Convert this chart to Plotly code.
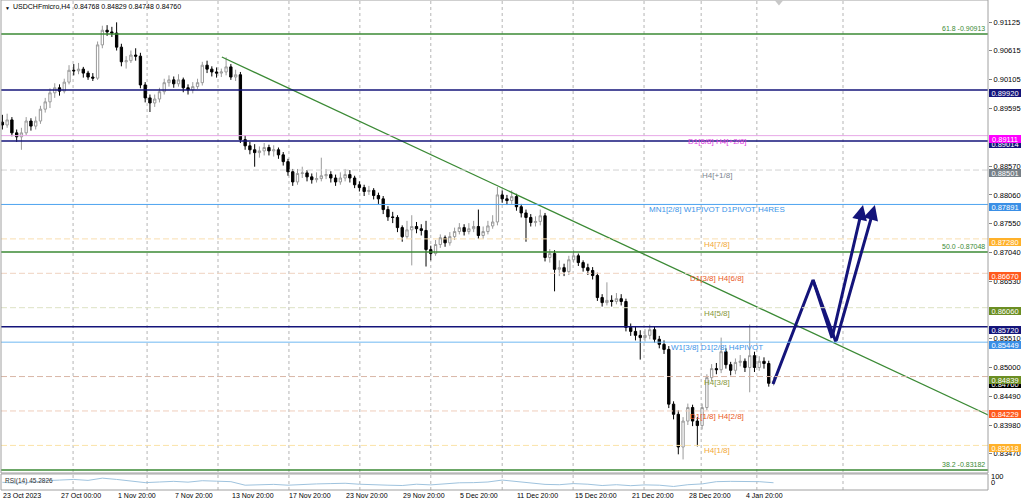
import plotly.graph_objects as go

# USDCHFmicro, H4 - one candle here covers two H4 bars (23 Oct 2023 -> 5 Jan 2024)
closes = [
    0.8930, 0.8939, 0.8916, 0.8909, 0.8916, 0.8937, 0.8928, 0.8937, 0.8958, 0.8971,
    0.8987, 0.8996, 0.8990, 0.9006, 0.9027, 0.9026, 0.9029, 0.9022, 0.9015, 0.9013,
    0.9072, 0.9098, 0.9095, 0.9093, 0.9068, 0.9042, 0.9044, 0.9054, 0.9052, 0.9001,
    0.8978, 0.8969, 0.8976, 0.8989, 0.9005, 0.9010, 0.9003, 0.9010, 0.8996, 0.8992,
    0.8998, 0.9005, 0.9036, 0.9029, 0.9024, 0.9022, 0.9024, 0.9033, 0.9015, 0.9019,
    0.8904, 0.8893, 0.8886, 0.8881, 0.8884, 0.8890, 0.8884, 0.8886, 0.8877, 0.8865,
    0.8847, 0.8829, 0.8844, 0.8845, 0.8838, 0.8833, 0.8835, 0.8840, 0.8842, 0.8836,
    0.8829, 0.8836, 0.8842, 0.8836, 0.8824, 0.8819, 0.8812, 0.8814, 0.8805, 0.8799,
    0.8780, 0.8767, 0.8766, 0.8748, 0.8732, 0.8744, 0.8750, 0.8746, 0.8743, 0.8709,
    0.8702, 0.8718, 0.8730, 0.8721, 0.8732, 0.8741, 0.8748, 0.8741, 0.8746, 0.8750,
    0.8734, 0.8741, 0.8751, 0.8758, 0.8806, 0.8799, 0.8796, 0.8803, 0.8785, 0.8774,
    0.8766, 0.8757, 0.8759, 0.8769, 0.8695, 0.8702, 0.8674, 0.8677, 0.8670, 0.8691,
    0.8698, 0.8686, 0.8677, 0.8672, 0.8663, 0.8624, 0.8615, 0.8619, 0.8617, 0.8622,
    0.8617, 0.8571, 0.8564, 0.8557, 0.8553, 0.8557, 0.8567, 0.8550, 0.8541, 0.8532,
    0.8435, 0.8417, 0.8359, 0.8405, 0.8429, 0.8405, 0.8397, 0.8429, 0.8482, 0.8498,
    0.8496, 0.8528, 0.8505, 0.8495, 0.8509, 0.8511, 0.8500, 0.8521, 0.8500, 0.8511,
    0.8507, 0.8472, 0.8476,
]
highs = [
    0.8948, 0.8950, 0.8944, 0.8922, 0.8925, 0.8944, 0.8942, 0.8945, 0.8964, 0.8978,
    0.8995, 0.9004, 0.9002, 0.9012, 0.9036, 0.9038, 0.9040, 0.9033, 0.9026, 0.9022,
    0.9078, 0.9106, 0.9107, 0.9104, 0.9112, 0.9074, 0.9052, 0.9062, 0.9066, 0.9058,
    0.9006, 0.8984, 0.8984, 0.8996, 0.9012, 0.9018, 0.9016, 0.9020, 0.9014, 0.9002,
    0.9006, 0.9012, 0.9042, 0.9044, 0.9034, 0.9032, 0.9030, 0.9050, 0.9038, 0.9028,
    0.9024, 0.8912, 0.8900, 0.8896, 0.8892, 0.8898, 0.8895, 0.8894, 0.8890, 0.8882,
    0.8870, 0.8852, 0.8852, 0.8856, 0.8850, 0.8844, 0.8846, 0.8872, 0.8852, 0.8848,
    0.8842, 0.8846, 0.8852, 0.8850, 0.8840, 0.8830, 0.8824, 0.8822, 0.8818, 0.8810,
    0.8804, 0.8786, 0.8776, 0.8770, 0.8752, 0.8760, 0.8770, 0.8758, 0.8754, 0.8760,
    0.8716, 0.8726, 0.8736, 0.8734, 0.8740, 0.8748, 0.8756, 0.8754, 0.8756, 0.8760,
    0.8780, 0.8750, 0.8760, 0.8770, 0.8820, 0.8814, 0.8806, 0.8814, 0.8808, 0.8790,
    0.8780, 0.8772, 0.8768, 0.8780, 0.8774, 0.8710, 0.8708, 0.8690, 0.8684, 0.8698,
    0.8708, 0.8702, 0.8690, 0.8684, 0.8678, 0.8668, 0.8630, 0.8651, 0.8628, 0.8632,
    0.8630, 0.8622, 0.8578, 0.8572, 0.8566, 0.8568, 0.8576, 0.8572, 0.8556, 0.8548,
    0.8538, 0.8440, 0.8424, 0.8412, 0.8436, 0.8434, 0.8412, 0.8436, 0.8488, 0.8506,
    0.8508, 0.8553, 0.8534, 0.8510, 0.8516, 0.8522, 0.8516, 0.8576, 0.8528, 0.8520,
    0.8518, 0.8512, 0.8483,
]
lows = [
    0.8922, 0.8925, 0.8910, 0.8900, 0.8886, 0.8912, 0.8920, 0.8922, 0.8932, 0.8952,
    0.8960, 0.8978, 0.8982, 0.8986, 0.9002, 0.9018, 0.9020, 0.9014, 0.9010, 0.9008,
    0.9010, 0.9066, 0.9088, 0.9086, 0.9062, 0.9034, 0.9030, 0.9040, 0.9044, 0.8995,
    0.8970, 0.8953, 0.8962, 0.8970, 0.8984, 0.8998, 0.8996, 0.8998, 0.8988, 0.8984,
    0.8986, 0.8994, 0.9000, 0.9022, 0.9016, 0.9014, 0.9015, 0.9018, 0.9010, 0.9008,
    0.8898, 0.8886, 0.8878, 0.8856, 0.8872, 0.8876, 0.8876, 0.8874, 0.8870, 0.8858,
    0.8840, 0.8822, 0.8824, 0.8836, 0.8830, 0.8826, 0.8828, 0.8830, 0.8834, 0.8828,
    0.8822, 0.8824, 0.8830, 0.8828, 0.8818, 0.8812, 0.8804, 0.8806, 0.8798, 0.8790,
    0.8772, 0.8760, 0.8756, 0.8740, 0.8723, 0.8728, 0.8681, 0.8738, 0.8734, 0.8679,
    0.8690, 0.8698, 0.8712, 0.8714, 0.8716, 0.8726, 0.8736, 0.8734, 0.8736, 0.8740,
    0.8728, 0.8728, 0.8736, 0.8746, 0.8752, 0.8792, 0.8788, 0.8790, 0.8778, 0.8766,
    0.8723, 0.8750, 0.8750, 0.8752, 0.8688, 0.8686, 0.8635, 0.8662, 0.8662, 0.8664,
    0.8686, 0.8680, 0.8670, 0.8664, 0.8656, 0.8618, 0.8608, 0.8610, 0.8608, 0.8612,
    0.8610, 0.8564, 0.8556, 0.8548, 0.8514, 0.8546, 0.8550, 0.8544, 0.8534, 0.8524,
    0.8428, 0.8408, 0.8346, 0.8337, 0.8398, 0.8396, 0.8360, 0.8390, 0.8424, 0.8476,
    0.8488, 0.8490, 0.8498, 0.8486, 0.8488, 0.8502, 0.8492, 0.8456, 0.8492, 0.8494,
    0.8498, 0.8466, 0.8468,
]
# each candle opens where the previous one closed
opens = [0.8935] + closes[:-1]
bars = list(range(len(closes)))

rsi_values = [
    48, 42, 47, 58, 62, 66, 60, 74, 66, 58, 46, 50, 54, 49, 58, 55, 52, 30, 33,
    35, 30, 36, 38, 40, 42, 36, 35, 30, 28, 36, 32, 40, 45, 46, 50, 62, 54, 47,
    35, 33, 40, 36, 28, 33, 27, 32, 30, 22, 33, 38, 52, 54, 53, 52, 45.2826,
]
rsi_bars = list(range(0, len(closes), 3))

date_labels = [
    "23 Oct 2023", "27 Oct 00:00", "1 Nov 20:00", "7 Nov 20:00", "13 Nov 20:00",
    "17 Nov 20:00", "23 Nov 20:00", "29 Nov 20:00", "5 Dec 20:00", "11 Dec 20:00",
    "15 Dec 20:00", "21 Dec 20:00", "28 Dec 20:00", "4 Jan 20:00",
]
date_bars = [0, 12, 24, 36, 48, 60, 72, 84, 96, 108, 120, 132, 144, 156]
week_separators = [14.85, 30.4, 45.3, 60.2, 75.1, 90.0, 105.0, 119.9, 134.8, 146.8, 158.5, 176.6]

price_ticks = [0.91125, 0.90615, 0.90105, 0.89595, 0.88570, 0.88060, 0.87550,
               0.87040, 0.86530, 0.85510, 0.85000, 0.84490, 0.83980, 0.83470]

fib_prices = [0.90913, 0.87048, 0.83182]
fib_labels = ["61.8 -0.90913", "50.0 -0.87048", "38.2 -0.83182"]

navy_prices = [0.89920, 0.89014, 0.85720]

level_prices = [0.89111, 0.88501, 0.87891, 0.87280, 0.86670,
                0.86060, 0.85449, 0.84839, 0.84229, 0.83618]
level_labels = ["D1[6/8] H4[+2/8]", "H4[+1/8]", "MN1[2/8] W1PIVOT D1PIVOT H4RES",
                "H4[7/8]", "D1[3/8] H4[6/8]", "H4[5/8]", "W1[3/8] D1[2/8] H4PIVOT",
                "H4[3/8]", "D1[1/8] H4[2/8]", "H4[1/8]"]

last_quote = [0.84768, 0.84829, 0.84748, 0.84760]
rsi_last = 45.2826
rsi_scale = ["100", "0"]

trend_bars = [46.1, 207.1]
trend_prices = [0.90505, 0.84158]

# hand-drawn forecast: two zig-zags ending in arrows
path_a_bars = [161.9, 170.3, 174.3, 180.8]
path_a_prices = [0.84707, 0.86551, 0.85523, 0.87881]
path_b_bars = [170.3, 175.1, 183.3]
path_b_prices = [0.86551, 0.85452, 0.87881]

# styles
NAVY = "#14147a"
GREEN = "#3b8a35"
FONT = "Arial, Liberation Sans, sans-serif"
DASH = "6px,3px"
level_styles = [
    dict(line="#e7a8e7", dash="solid", text="#e040e0", box="#ff00ff"),
    dict(line="#d2d2d2", dash=DASH, text="#7d8590", box="#778088"),
    dict(line="#4da3f0", dash="solid", text="#3d95e8", box="#3a8fe6"),
    dict(line="#f9dfb0", dash=DASH, text="#f2a93a", box="#ffb12a"),
    dict(line="#efd2c0", dash=DASH, text="#ea5a28", box="#ff5a1e"),
    dict(line="#dde2c4", dash=DASH, text="#86973a", box="#6b8e23"),
    dict(line="#70b8f2", dash="solid", text="#3d95e8", box="#3a8fe6"),
    dict(line="#d9b6a6", dash=DASH, text="#86973a", box="#6b8e23"),
    dict(line="#efcdbc", dash=DASH, text="#ea5a28", box="#ff5a1e"),
    dict(line="#fbe3a8", dash=DASH, text="#f2a93a", box="#ffb12a"),
]

X_RANGE = [-0.29, 207.06]
Y_RANGE = [0.83129, 0.91516]
MAIN_DOMAIN = [0.0347, 1.0]
RSI_DOMAIN = [0.0, 0.0327]

fig = go.Figure()

fig.add_trace(
    go.Candlestick(
        x=bars,
        open=opens,
        high=highs,
        low=lows,
        close=closes,
        increasing=dict(line=dict(color="#9a9a9a", width=1), fillcolor="#ffffff"),
        decreasing=dict(line=dict(color="#000000", width=1), fillcolor="#000000"),
        whiskerwidth=0,
        hoverinfo="skip",
        showlegend=False,
        xaxis="x",
        yaxis="y",
    )
)

fig.add_trace(
    go.Scatter(
        x=trend_bars, y=trend_prices, mode="lines",
        line=dict(color=GREEN, width=1.3), hoverinfo="skip", showlegend=False,
    )
)
for xs, ys in [(path_a_bars[:-1], path_a_prices[:-1]), (path_b_bars[:-1], path_b_prices[:-1])]:
    fig.add_trace(
        go.Scatter(
            x=xs, y=ys, mode="lines",
            line=dict(color=NAVY, width=3), hoverinfo="skip", showlegend=False,
        )
    )

fig.add_trace(
    go.Scatter(
        x=rsi_bars, y=rsi_values, mode="lines",
        line=dict(color="#9fc3de", width=1), hoverinfo="skip", showlegend=False,
        xaxis="x", yaxis="y2",
    )
)

shapes = []
annotations = []

# weekly separators (dotted grid)
for b in week_separators:
    shapes.append(dict(type="line", xref="x", yref="paper", x0=b, x1=b, y0=0, y1=1,
                       line=dict(color="#b5b5b5", width=1, dash="dot"), layer="below"))

# levels with text tags
for price, label, st in zip(level_prices, level_labels, level_styles):
    shapes.append(dict(type="line", xref="paper", yref="y", x0=0, x1=1, y0=price, y1=price,
                       line=dict(color=st["line"], width=1, dash=st["dash"]), layer="above"))
    annotations.append(dict(xref="paper", yref="y", x=0.7255, y=price, text=label,
                            showarrow=False, xanchor="center", yanchor="top", yshift=1,
                            font=dict(family=FONT, size=8, color=st["text"])))

for price in navy_prices:
    shapes.append(dict(type="line", xref="paper", yref="y", x0=0, x1=1, y0=price, y1=price,
                       line=dict(color=NAVY, width=1.5), layer="above"))

for price, label in zip(fib_prices, fib_labels):
    shapes.append(dict(type="line", xref="paper", yref="y", x0=0, x1=1, y0=price, y1=price,
                       line=dict(color=GREEN, width=1.5), layer="above"))
    annotations.append(dict(xref="paper", yref="y", x=0.999, y=price, text=label,
                            showarrow=False, xanchor="right", yanchor="bottom", yshift=0,
                            font=dict(family=FONT, size=7, color=GREEN)))

# arrow heads of the forecast
for xs, ys in [(path_a_bars, path_a_prices), (path_b_bars, path_b_prices)]:
    annotations.append(dict(xref="x", yref="y", axref="x", ayref="y",
                            x=xs[-1], y=ys[-1], ax=xs[-2], ay=ys[-2], text="",
                            showarrow=True, arrowhead=2, arrowsize=1, arrowwidth=3,
                            arrowcolor=NAVY, standoff=0, startstandoff=0))

# pane borders
shapes.append(dict(type="rect", xref="paper", yref="paper", x0=0, x1=1,
                   y0=MAIN_DOMAIN[0], y1=1, line=dict(color="#a0a0a0", width=1), layer="above"))
shapes.append(dict(type="rect", xref="paper", yref="paper", x0=0, x1=1,
                   y0=RSI_DOMAIN[0], y1=RSI_DOMAIN[1], line=dict(color="#a0a0a0", width=1), layer="above"))
# chart shift marker at the top
shapes.append(dict(type="path", xref="paper", yref="paper",
                   path="M 0.7837 1 L 0.7928 1 L 0.7882 0.989 Z",
                   fillcolor="#c8c8c8", line=dict(width=0), layer="above"))

# price boxes on the right scale (current price under the olive tag)
box_prices = [last_quote[3]] + navy_prices + level_prices
box_colors = ["#000000"] + [NAVY] * 3 + [st["box"] for st in level_styles]
for price, color in zip(box_prices, box_colors):
    annotations.append(dict(xref="paper", yref="y", x=1, y=price, xanchor="left", xshift=1,
                            yshift=-3, text=f"{price:.5f}", showarrow=False, bgcolor=color,
                            width=32, height=8, borderpad=0, borderwidth=0,
                            font=dict(family=FONT, size=7.5, color="#ffffff")))

# RSI scale, drawn overlapped like the terminal does in a thin pane
for text, shift in zip(rsi_scale, [-3, -9]):
    annotations.append(dict(xref="paper", yref="paper", x=1, y=RSI_DOMAIN[1], xanchor="left",
                            yanchor="middle", xshift=1, yshift=shift, text=text, showarrow=False,
                            font=dict(family=FONT, size=7.5, color="#000000")))

# date labels start at their tick
for b, label in zip(date_bars, date_labels):
    annotations.append(dict(xref="x", yref="paper", x=b, y=0, xanchor="left", yanchor="top",
                            xshift=-1, yshift=0, text=label, showarrow=False,
                            font=dict(family=FONT, size=7, color="#000000")))

annotations.append(dict(xref="paper", yref="paper", x=0, y=1, xanchor="left", yanchor="top",
                        xshift=2, yshift=-3, text="▼", showarrow=False,
                        font=dict(family=FONT, size=5, color="#000000")))
annotations.append(dict(xref="paper", yref="paper", x=0, y=1, xanchor="left", yanchor="top",
                        xshift=10, yshift=-1,
                        text="USDCHFmicro,H4  " + " ".join(f"{v:.5f}" for v in last_quote),
                        showarrow=False, font=dict(family=FONT, size=7, color="#000000")))
annotations.append(dict(xref="paper", yref="paper", x=0, y=RSI_DOMAIN[1], xanchor="left",
                        yanchor="top", xshift=2, yshift=-1, text=f"RSI(14) {rsi_last}",
                        showarrow=False, font=dict(family=FONT, size=6.5, color="#333333")))

fig.update_layout(
    width=1024,
    height=502,
    margin=dict(l=1, r=36, t=0, b=12),
    paper_bgcolor="#ffffff",
    plot_bgcolor="#ffffff",
    font=dict(family=FONT, size=7.5, color="#000000"),
    showlegend=False,
    xaxis=dict(range=X_RANGE, anchor="y2", showgrid=False, zeroline=False,
               showticklabels=False, rangeslider=dict(visible=False), fixedrange=True),
    yaxis=dict(domain=MAIN_DOMAIN, range=Y_RANGE, side="right", showgrid=False,
               zeroline=False, tickvals=price_ticks,
               ticktext=[f"{v:.5f}" for v in price_ticks], ticks="outside", ticklen=3,
               tickcolor="#808080", tickfont=dict(family=FONT, size=7.5, color="#000000")),
    yaxis2=dict(domain=RSI_DOMAIN, range=[0, 100], side="right", showgrid=False,
                zeroline=False, showticklabels=False, ticks=""),
    shapes=shapes,
    annotations=annotations,
)

# the page's default body margin would push the chart 8px off the window
fig.write_html("out.html", config={"displayModeBar": False},
               post_script="document.body.style.margin='0';")
